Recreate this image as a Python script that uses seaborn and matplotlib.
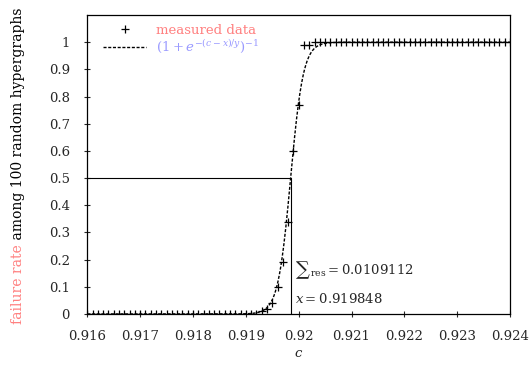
"""
Failure rate of random hypergraphs near the threshold, with logistic fit
"""
import numpy as np
import pandas as pd
import matplotlib
matplotlib.use("Agg")
import matplotlib.pyplot as plt
import matplotlib.transforms as mtransforms
from matplotlib.lines import Line2D
import seaborn as sns

# measured points, c from 0.9160 to 0.9240 in steps of 0.0001
c_start, c_stop = 0.916, 0.924
failure_rate = [
    0.00, 0.00, 0.00, 0.00, 0.00, 0.00, 0.00, 0.00, 0.00, 0.00,
    0.00, 0.00, 0.00, 0.00, 0.00, 0.00, 0.00, 0.00, 0.00, 0.00,
    0.00, 0.00, 0.00, 0.00, 0.00, 0.00, 0.00, 0.00, 0.00, 0.00,
    0.00, 0.00, 0.00, 0.01, 0.02, 0.04, 0.10, 0.19, 0.34, 0.60,
    0.77, 0.99, 0.99, 1.00, 1.00, 1.00, 1.00, 1.00, 1.00, 1.00,
    1.00, 1.00, 1.00, 1.00, 1.00, 1.00, 1.00, 1.00, 1.00, 1.00,
    1.00, 1.00, 1.00, 1.00, 1.00, 1.00, 1.00, 1.00, 1.00, 1.00,
    1.00, 1.00, 1.00, 1.00, 1.00, 1.00, 1.00, 1.00, 1.00, 1.00,
    1.00,
]

# fit parameters (x is printed on the chart, y)
fit_x = 0.919848
fit_y = 0.00012
sum_res = "0.0109112"

x_ticks = [0.916, 0.917, 0.918, 0.919, 0.92, 0.921, 0.922, 0.923, 0.924]
y_ticks = [0, 0.1, 0.2, 0.3, 0.4, 0.5, 0.6, 0.7, 0.8, 0.9, 1]

PINK = "#ff8080"
BLUE = "#9a9aff"
FS = 9.5

sns.set_style("white")
plt.rcParams["font.family"] = ["DejaVu Serif"]
plt.rcParams["mathtext.fontset"] = "dejavuserif"
plt.rcParams["font.size"] = FS

df = pd.DataFrame({
    "c": np.linspace(c_start, c_stop, len(failure_rate)),
    "rate": failure_rate,
})
c_fine = np.linspace(c_start, c_stop, 1601)
fit_df = pd.DataFrame({"c": c_fine,
                       "rate": 1.0 / (1.0 + np.exp(-(c_fine - fit_x) / fit_y))})

fig = plt.figure(figsize=(5.31, 3.65), dpi=100)
ax = fig.add_axes([0.1644, 0.1397, 0.7961, 0.8192])

sns.lineplot(data=fit_df, x="c", y="rate", ax=ax, color="black",
             linestyle=(0, (2.2, 1.2)), linewidth=1.0)
sns.scatterplot(data=df, x="c", y="rate", ax=ax, marker="+", color="black",
                s=28, linewidth=0.9, zorder=3)

# threshold guide lines
ax.plot([c_start, fit_x], [0.5, 0.5], color="black", linewidth=0.8)
ax.plot([fit_x, fit_x], [0, 0.5], color="black", linewidth=0.8)

ax.set_xlim(c_start, c_stop)
ax.set_ylim(0, 1.1)
ax.set_xticks(x_ticks)
ax.set_xticklabels(["%g" % v for v in x_ticks])
ax.set_yticks(y_ticks)
ax.set_yticklabels(["%g" % v for v in y_ticks])
ax.tick_params(axis="x", direction="inout", length=5, width=0.8, pad=9,
               labelsize=FS, bottom=True)
ax.tick_params(axis="y", direction="inout", length=5, width=0.8, pad=10,
               labelsize=FS, left=True)
for side in ["top", "right", "bottom", "left"]:
    ax.spines[side].set_visible(True)
    ax.spines[side].set_color("black")
    ax.spines[side].set_linewidth(0.9)

ax.set_xlabel("$c$", fontsize=FS, labelpad=3)
ax.set_ylabel("")

# legend
handles = [
    Line2D([], [], marker="+", color="black", linestyle="none",
           markersize=5.5, markeredgewidth=0.9),
    Line2D([], [], color="black", linestyle=(0, (2.2, 1.2)), linewidth=1.0),
]
labels = ["measured data", r"$(1+e^{-(c-x)/y})^{-1}$"]
ax.legend(handles, labels, loc="upper left", bbox_to_anchor=(0.01, 1.01),
          frameon=False, handlelength=3.2, handletextpad=0.8,
          labelspacing=0.1, fontsize=FS, labelcolor=[PINK, BLUE])

# fit annotation: big sum sign followed by the residual
t_sum = ax.text(0.91994, 0.144, "∑", fontsize=14, va="baseline", ha="left")
ax.text(0.91994, 0.041, r"$x = %s$" % fit_x, fontsize=FS,
        va="baseline", ha="left")

# two-coloured y label
t1 = fig.text(0.042, 0.112, "failure rate", color=PINK, rotation=90,
              rotation_mode="anchor", ha="left", va="baseline", fontsize=10)
fig.canvas.draw()
bb = t1.get_window_extent()
fig.text(0.042, bb.y1 / fig.bbox.height, " among 100 random hypergraphs",
         color="black", rotation=90, rotation_mode="anchor", ha="left",
         va="baseline", fontsize=10)

sum_w = t_sum.get_window_extent().width * 72.0 / fig.dpi
res_tr = mtransforms.offset_copy(ax.transData, fig=fig, x=sum_w + 0.5, y=0,
                                 units="points")
ax.text(0.91994, 0.144, r"$_{\mathrm{res}} = " + sum_res + "$",
        fontsize=FS, va="baseline", ha="left", transform=res_tr)

fig.savefig("out.png", dpi=100)
